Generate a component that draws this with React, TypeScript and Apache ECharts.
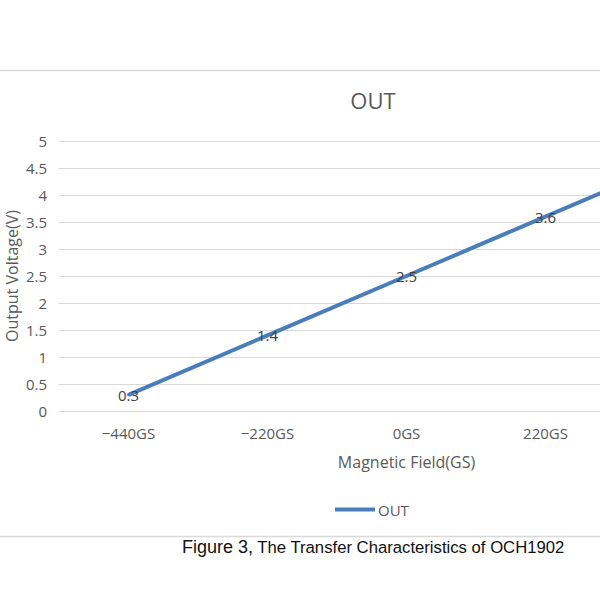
import React, { useEffect, useRef } from "react";
import * as echarts from "echarts";

const categories = ["−440GS", "−220GS", "0GS", "220GS", "440GS"];
const outValues = [0.3, 1.4, 2.5, 3.6, 4.7];
const seriesName = "OUT";
const titleText = "OUT";
const xAxisName = "Magnetic Field(GS)";
const yAxisName = "Output Voltage(V)";
const captionLead = "Figure 3,";
const captionRest = " The Transfer Characteristics of OCH1902";
// the last category lies beyond the cropped right edge of the reference
const visibleCount = 4;

export default function App() {
  const ref = useRef<HTMLDivElement>(null);
  useEffect(() => {
    if (!ref.current) return;
    const chart = echarts.init(ref.current, undefined, { renderer: "svg" });
    const font = "'Open Sans', 'Noto Sans', sans-serif";
    chart.setOption({
      animation: false,
      textStyle: { fontFamily: font },
      title: {
        text: titleText,
        left: 368,
        top: 84,
        textAlign: "center",
        textStyle: { fontSize: 22, fontWeight: "normal", color: "#595959", fontFamily: font },
      },
      legend: {
        data: [seriesName],
        left: 330,
        top: 497,
        icon: "rect",
        itemWidth: 40,
        itemHeight: 4,
        itemGap: 4,
        textStyle: { fontSize: 15, color: "#595959", fontFamily: font, padding: [0, 0, 0, -2] },
      },
      grid: { left: 59, top: 141, bottom: 189, width: 695, outerBoundsMode: "none", containLabel: false },
      xAxis: {
        type: "category",
        data: categories,
        boundaryGap: true,
        name: xAxisName,
        nameLocation: "middle",
        nameGap: 43,
        nameMoveOverlap: false,
        nameTextStyle: { fontSize: 16, color: "#595959", fontFamily: font },
        axisLine: { show: true, lineStyle: { color: "#d9d9d9", width: 1 } },
        axisTick: { show: false },
        axisLabel: {
          fontSize: 15,
          color: "#595959",
          margin: 14,
          fontFamily: font,
          interval: (i: number) => i < visibleCount,
        },
      },
      yAxis: {
        type: "value",
        min: 0,
        max: 5,
        interval: 0.5,
        name: yAxisName,
        nameLocation: "middle",
        nameGap: 39,
        nameMoveOverlap: false,
        nameRotate: 90,
        nameTextStyle: { fontSize: 16, color: "#595959", fontFamily: font },
        axisLine: { show: false },
        axisTick: { show: false },
        axisLabel: { fontSize: 15, color: "#595959", margin: 12, fontFamily: font },
        splitLine: { lineStyle: { color: "#d9d9d9", width: 1 } },
      },
      series: [
        {
          name: seriesName,
          type: "line",
          data: outValues.map((v, i) => (i < visibleCount ? v : { value: v, label: { show: false } })),
          symbol: "circle",
          symbolSize: 3,
          showSymbol: true,
          lineStyle: { color: "#4a7ebb", width: 4 },
          itemStyle: { color: "#4a7ebb" },
          label: {
            show: true,
            position: "inside",
            fontSize: 15,
            color: "#404040",
            fontFamily: font,
          },
        },
      ],
      graphic: [
        {
          type: "line",
          shape: { x1: 0, y1: 70.5, x2: 600, y2: 70.5 },
          style: { stroke: "#d9d9d9", lineWidth: 1.5 },
        },
        {
          type: "line",
          shape: { x1: 0, y1: 536.5, x2: 600, y2: 536.5 },
          style: { stroke: "#d9d9d9", lineWidth: 1.5 },
        },
        {
          type: "text",
          left: 182,
          top: 538,
          style: {
            text: "{a|" + captionLead + "}{b|" + captionRest + "}",
            rich: {
              a: { fontSize: 18, fill: "#111", fontFamily: "'Liberation Sans', Arial, sans-serif" },
              b: { fontSize: 16.7, fill: "#111", fontFamily: "'Liberation Sans', Arial, sans-serif" },
            },
          },
        },
      ],
    });
    return () => chart.dispose();
  }, []);
  return (
    <div style={{ position: "fixed", left: 0, top: 0, width: 600, height: 600, overflow: "hidden", background: "#fff" }}>
      <div ref={ref} style={{ width: 760, height: 600 }} />
    </div>
  );
}
